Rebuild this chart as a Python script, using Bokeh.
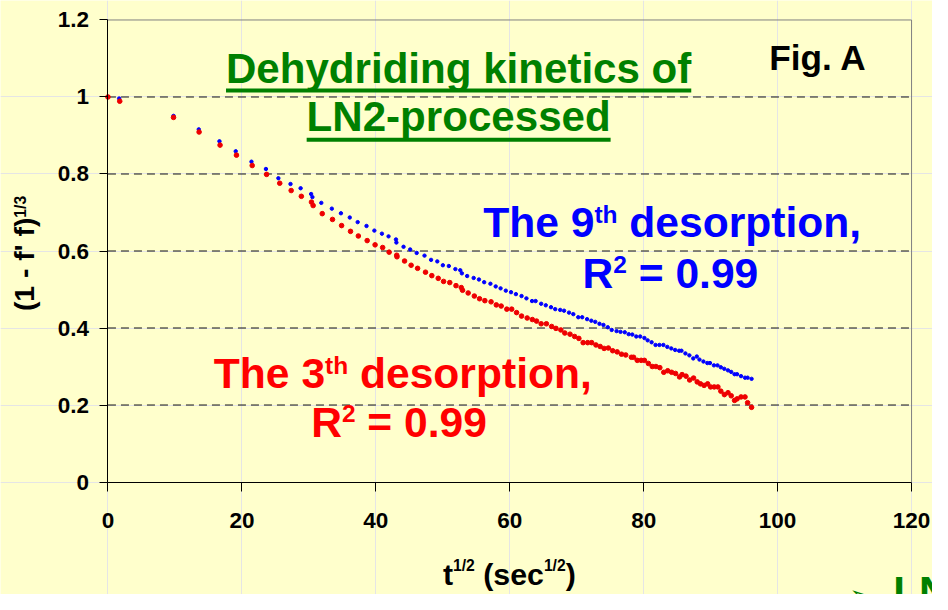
import math
from bokeh.plotting import figure
from bokeh.models import Range1d, FixedTicker, Label, LinearAxis
from bokeh.embed import file_html
from bokeh.resources import INLINE

# ---------------- data ----------------
x_ticks = [0, 20, 40, 60, 80, 100, 120]
y_ticks = [0, 0.2, 0.4, 0.6, 0.8, 1.0, 1.2]
y_tick_labels = ["0", "0.2", "0.4", "0.6", "0.8", "1", "1.2"]
grid_levels = [0.2, 0.4, 0.6, 0.8, 1.0]
x_limits = [0, 120]
y_limits = [0, 1.2]

# 9th desorption (blue)
desorb9_x = [0.00, 1.67, 9.79, 13.56, 16.65, 19.08, 21.43, 23.59, 25.45, 27.26,
             28.77, 30.34, 30.53, 31.86, 33.43, 34.79, 36.11, 37.29, 38.61, 39.78,
             40.91, 41.90, 43.01, 43.07, 44.14, 45.13, 46.10, 47.27, 48.25, 49.18,
             50.01, 50.90, 51.88, 52.61, 52.85, 53.64, 54.61, 55.40, 56.18, 57.11,
             57.90, 58.63, 59.41, 60.19, 60.92, 61.76, 62.49, 63.33, 63.86, 64.69,
             65.38, 66.16, 66.79, 67.53, 68.11, 68.85, 69.49, 70.23, 70.82, 71.55,
             72.18, 72.77, 73.40, 73.99, 74.63, 75.22, 75.95, 76.54, 77.17, 77.76,
             78.30, 78.89, 79.48, 80.11, 80.59, 81.18, 81.77, 82.35, 82.94, 83.53,
             84.12, 84.70, 85.29, 85.64, 86.23, 86.82, 87.40, 87.93, 88.33, 88.92,
             89.50, 89.90, 90.49, 91.02, 91.52, 92.04, 92.59, 93.07, 93.57, 93.95,
             94.54, 95.13, 95.52, 96.11]
desorb9_y = [1.000, 0.996, 0.951, 0.916, 0.885, 0.859, 0.832, 0.813, 0.789, 0.774,
             0.763, 0.748, 0.740, 0.725, 0.710, 0.698, 0.687, 0.675, 0.665, 0.653,
             0.645, 0.638, 0.630, 0.622, 0.611, 0.604, 0.595, 0.588, 0.577, 0.573,
             0.563, 0.561, 0.553, 0.550, 0.542, 0.535, 0.530, 0.526, 0.519, 0.515,
             0.508, 0.503, 0.497, 0.493, 0.488, 0.483, 0.477, 0.470, 0.470, 0.463,
             0.459, 0.454, 0.449, 0.447, 0.445, 0.440, 0.436, 0.428, 0.428, 0.423,
             0.419, 0.416, 0.411, 0.408, 0.402, 0.395, 0.392, 0.390, 0.389, 0.384,
             0.383, 0.378, 0.378, 0.374, 0.368, 0.363, 0.356, 0.356, 0.356, 0.351,
             0.347, 0.343, 0.341, 0.341, 0.334, 0.329, 0.321, 0.326, 0.318, 0.313,
             0.309, 0.309, 0.303, 0.303, 0.298, 0.294, 0.290, 0.286, 0.280, 0.280,
             0.275, 0.271, 0.271, 0.268]

# 3th desorption (red)
desorb3_x = [0.00, 1.76, 9.79, 13.61, 16.74, 19.19, 21.54, 23.69, 25.65, 27.36,
             28.88, 30.39, 30.64, 32.00, 33.53, 34.89, 36.22, 37.39, 38.71, 39.89,
             41.02, 41.99, 43.12, 43.16, 44.29, 45.27, 46.24, 47.42, 48.36, 49.32,
             50.12, 51.04, 51.97, 52.76, 52.95, 53.79, 54.71, 55.49, 56.28, 57.21,
             57.99, 58.72, 59.56, 60.29, 61.02, 61.76, 62.60, 63.37, 64.00, 64.69,
             65.47, 66.26, 66.90, 67.63, 68.22, 69.00, 69.69, 70.32, 70.96, 71.64,
             72.23, 72.87, 73.50, 74.09, 74.72, 75.37, 76.04, 76.69, 77.32, 78.16,
             78.49, 79.04, 79.62, 80.11, 80.70, 81.28, 81.83, 82.41, 83.00, 83.59,
             84.17, 84.76, 85.35, 85.73, 86.32, 86.86, 87.45, 87.99, 88.48, 89.02,
             89.55, 89.99, 90.53, 91.08, 91.52, 92.05, 92.59, 93.07, 93.57, 93.95,
             94.54, 95.13, 95.52, 96.11]
desorb3_y = [1.000, 0.989, 0.947, 0.909, 0.875, 0.849, 0.822, 0.799, 0.776, 0.757,
             0.742, 0.727, 0.718, 0.697, 0.682, 0.666, 0.651, 0.639, 0.627, 0.616,
             0.609, 0.597, 0.589, 0.585, 0.574, 0.563, 0.555, 0.545, 0.536, 0.529,
             0.521, 0.518, 0.510, 0.505, 0.498, 0.491, 0.483, 0.476, 0.471, 0.468,
             0.460, 0.457, 0.449, 0.449, 0.440, 0.431, 0.426, 0.422, 0.418, 0.411,
             0.411, 0.404, 0.399, 0.395, 0.387, 0.384, 0.378, 0.373, 0.362, 0.362,
             0.362, 0.356, 0.352, 0.347, 0.348, 0.341, 0.338, 0.332, 0.330, 0.324,
             0.324, 0.316, 0.316, 0.316, 0.308, 0.300, 0.300, 0.297, 0.285, 0.289,
             0.285, 0.282, 0.273, 0.279, 0.275, 0.265, 0.270, 0.260, 0.255, 0.251,
             0.255, 0.247, 0.247, 0.247, 0.236, 0.227, 0.232, 0.224, 0.212, 0.216,
             0.221, 0.221, 0.206, 0.194]

# ---------------- layout (reference pixels -> canvas) ----------------
BG = "#FFFFCC"
FONT = "Liberation Sans"
W, H = 932, 594
SX, SY = W / 948.0, H / 610.0
S = (SX + SY) / 2
# plot area in the reference picture (pixels)
R_X0, R_X1, R_Y0, R_Y1 = 109.3, 926.7, 494.5, 20.0
CX0, CX1 = R_X0 * SX, R_X1 * SX
CY0, CY1 = R_Y0 * SY, R_Y1 * SY
PPX = (CX1 - CX0) / (x_limits[1] - x_limits[0])
PPY = (CY0 - CY1) / (y_limits[1] - y_limits[0])
BASE_FIX = 0.39   # label baseline correction (em)


def X(cx):
    return x_limits[0] + (cx - CX0) / PPX


def Y(cy):
    return y_limits[0] + (CY0 - cy) / PPY


ARIAL_B = {"T": .611, "h": .611, "e": .556, " ": .278, "9": .556, "3": .556,
           "d": .611, "s": .556, "o": .611, "r": .389, "p": .611, "t": .333,
           "i": .278, "n": .611, ",": .278, "R": .722, "2": .556, "=": .584,
           "0": .556, ".": .278, "(": .333, ")": .333, "1": .556, "-": .333,
           "f": .333, "'": .238, "/": .278, "c": .556, "D": .722, "y": .556,
           "g": .611, "k": .556, "L": .611, "N": .722, "F": .611, "A": .722}


def tw(text, size):
    return sum(ARIAL_B.get(ch, .556) for ch in text) * size


p = figure(width=W, height=H,
           x_range=Range1d(X(0), X(W)), y_range=Range1d(Y(H), Y(0)),
           x_axis_location=None, y_axis_location=None,
           output_backend="svg", toolbar_location=None, title=None,
           min_border=0, background_fill_color=BG, border_fill_color=BG,
           outline_line_color=None)

xaxis = LinearAxis(fixed_location=y_limits[0], bounds=tuple(x_limits),
                   ticker=FixedTicker(ticks=x_ticks))
yaxis = LinearAxis(fixed_location=x_limits[0], bounds=tuple(y_limits),
                   ticker=FixedTicker(ticks=y_ticks))
yaxis.major_label_overrides = {t: l for t, l in zip(y_ticks, y_tick_labels)}
for ax in (xaxis, yaxis):
    ax.axis_line_color = "black"
    ax.axis_line_width = 1
    ax.major_tick_line_color = "black"
    ax.major_tick_in = 0
    ax.minor_tick_line_color = None
    ax.major_label_text_font = FONT
    ax.major_label_text_font_style = "bold"
    ax.major_label_text_font_size = f"{23 * S:.1f}px"
    ax.major_label_text_color = "black"
xaxis.major_tick_out = 9
xaxis.major_label_standoff = 22
yaxis.major_tick_out = 8
yaxis.major_label_standoff = 11
p.add_layout(xaxis, "below")
p.add_layout(yaxis, "left")

# dashed horizontal gridlines and the grey top/right border of the plot area
p.segment(x0=[x_limits[0]] * len(grid_levels), x1=[x_limits[1]] * len(grid_levels),
          y0=grid_levels, y1=grid_levels, line_color="#111111", line_width=1,
          line_dash="8 5")
p.line([x_limits[0], x_limits[1], x_limits[1]], [y_limits[1], y_limits[1], y_limits[0]],
       line_color="#808080", line_width=1)

p.scatter(desorb9_x, desorb9_y, marker="circle", size=3.4, color="#0000FF")
p.scatter(desorb3_x, desorb3_y, marker="circle", size=4.6, color="#EE0000")


def add_text(text, cx, cy, size, color, align="left", angle=0.0, font=FONT,
             style="bold"):
    # cx, cy: canvas position of the text's baseline anchor
    if angle == 0.0:
        cy = cy - BASE_FIX * size
    else:
        cx = cx - BASE_FIX * size
    p.add_layout(Label(x=X(cx), y=Y(cy), text=text, text_font=font,
                       text_font_style=style, text_font_size=f"{size:.1f}px",
                       text_color=color, text_align=align,
                       text_baseline="alphabetic", angle=angle))


def add_pieces(pieces, rx, ry, color):
    # pieces: (text, ref font size, ref rise); rx, ry: reference pixel position
    cur = rx * SX
    base = ry * SY
    for text, size, rise in pieces:
        cs = size * S
        lead = len(text) - len(text.lstrip(" "))
        cur += lead * ARIAL_B[" "] * cs
        t = text.lstrip(" ")
        add_text(t, cur, base - rise * SY, cs, color)
        cur += tw(t, cs)


GREEN = "#008000"
BLUE = "#0000FF"
RED = "#FF0000"

# title with underlines
title_lines = [("Dehydriding kinetics of", 87, 92.5), ("LN2-processed", 136, 143)]
TCX = 466 * SX
TS = 43 * S
for txt, base, ul in title_lines:
    add_text(txt, TCX, base * SY, TS, GREEN, align="center")
    half = tw(txt, TS) / 2
    p.line([X(TCX - half), X(TCX + half)], [Y(ul * SY), Y(ul * SY)],
           line_color=GREEN, line_width=4)

add_text("Fig. A", 782 * SX, 73 * SY, 36 * S, "black")

add_pieces([("The 9", 43.5, 0), ("th", 25, 15), (" desorption,", 43.5, 0)], 491, 245, BLUE)
add_pieces([("R", 43.5, 0), ("2", 25, 16), (" = 0.99", 43.5, 0)], 592, 297, BLUE)
add_pieces([("The 3", 43.5, 0), ("th", 25, 15), (" desorption,", 43.5, 0)], 217, 400, RED)
add_pieces([("R", 43.5, 0), ("2", 25, 16), (" = 0.99", 43.5, 0)], 316, 450, RED)

# x axis title  t^(1/2) (sec^(1/2))
add_pieces([("t", 31, 0), ("1/2", 16, 15), (" (sec", 31, 0), ("1/2", 16, 15), (")", 31, 0)],
           450, 602, "black")

# y axis title (rotated, reads bottom to top)
ylab = "(1 - f' f)"
ysz = 29 * S
ymid = 271 * SY
ystart = ymid + tw(ylab, ysz) / 2
add_text(ylab, 35 * SX, ystart, ysz, "black", angle=math.pi / 2)
add_text("1/3", 26.5 * SX, ystart - tw(ylab, ysz), 16 * S, "black", angle=math.pi / 2)

# fragment of the slide text below the chart (cut by the picture edge)
add_text("\u27a2", 863 * SX, 623 * SY, 30 * S, GREEN, font="DejaVu Sans", style="normal")
add_text("LN", 908 * SX, 624 * SY, 43 * S, GREEN)

open("out.html", "w").write(file_html(p, INLINE))
